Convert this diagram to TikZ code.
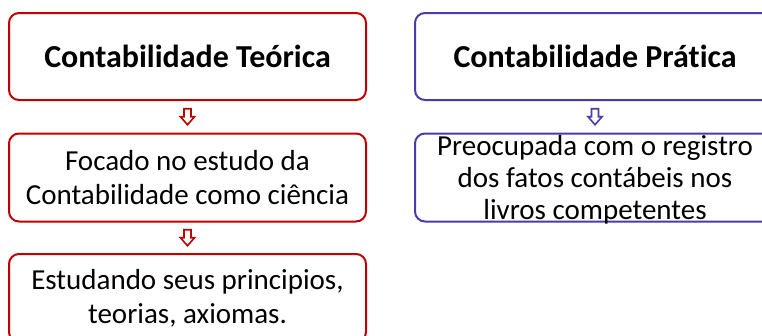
\documentclass[tikz,border=0pt]{standalone}
\usepackage{fontspec}
\setmainfont{Carlito}[Ligatures=NoCommon]
\usetikzlibrary{calc}
\definecolor{redc}{HTML}{C00000}
\definecolor{purc}{HTML}{4B3BA8}
\begin{document}
\begin{tikzpicture}[x=1pt,y=-1pt,
  box/.style={draw=#1, line width=2pt, rounded corners=10pt, fill=white, align=center, inner sep=0pt},
  titlebox/.style={box=#1, font=\fontsize{32}{38}\selectfont\bfseries},
  textbox/.style={box=#1, font=\fontsize{29}{34}\selectfont},
  blockarrow/.style={draw=#1, line width=1.6pt, fill=white, line join=miter}
]
\useasboundingbox (0,0) rectangle (762,335);
\clip (0,0) rectangle (762,335);
% left column
\node[titlebox=redc, minimum width=357pt, minimum height=87pt] (t1) at (187.5,56.5) {Contabilidade Teórica};
\node[textbox=redc, minimum width=357pt, minimum height=88pt] (t2) at (187.5,177.5) {Focado no estudo da\\Contabilidade como ciência};
\node[textbox=redc, minimum width=357pt, minimum height=88pt] (t3) at (187.5,298) {Estudando seus principios,\\teorias, axiomas.};
% right column
\node[titlebox=purc, minimum width=360pt, minimum height=87pt] (p1) at (595,56.5) {Contabilidade Prática};
\node[box=purc, minimum width=360pt, minimum height=88pt] (p2) at (595,177.5) {};
\node[font=\fontsize{29}{32}\selectfont, align=center, inner sep=0pt] (p2t) at (595,180) {Preocupada com o registro\\dos fatos contábeis nos\\livros competentes};
% arrows
\foreach \a/\b/\c in {t1/t2/redc, t2/t3/redc, p1/p2/purc}{
  \path (\a.south) -- (\b.north) coordinate[midway] (m\a);
  \draw[blockarrow=\c] ($(m\a)+(-3.5,-8)$) -- ($(m\a)+(3.5,-8)$) -- ($(m\a)+(3.5,0)$) -- ($(m\a)+(7,0)$) -- ($(m\a)+(0,8)$) -- ($(m\a)+(-7,0)$) -- ($(m\a)+(-3.5,0)$) -- cycle;
}
\end{tikzpicture}
\end{document}
